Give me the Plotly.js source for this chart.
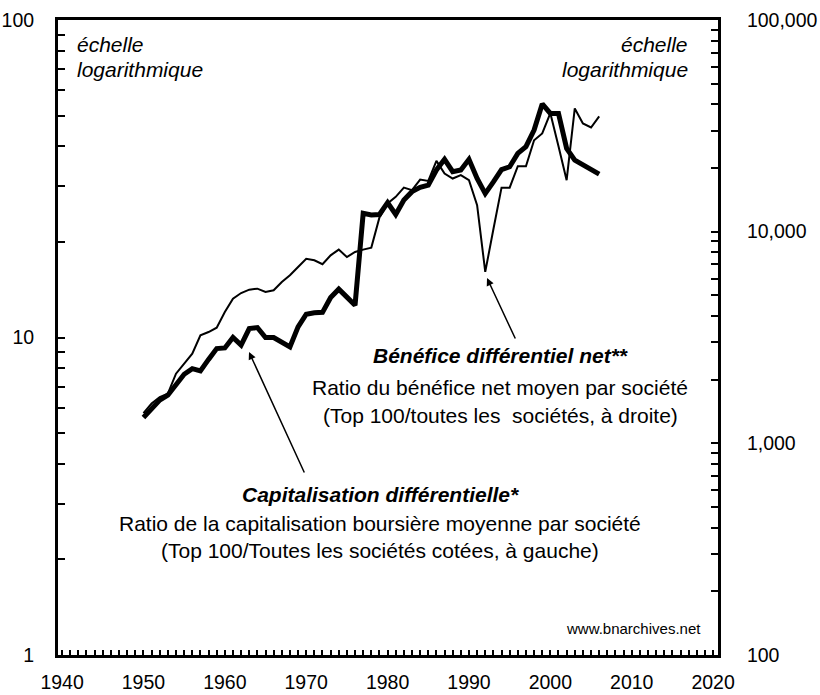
<!DOCTYPE html>
<html>
<head>
<meta charset="utf-8">
<script src="https://cdn.plot.ly/plotly-3.0.1.min.js"></script>
<style>html,body{margin:0;padding:0;background:#fff;}#chart{width:820px;height:695px;}</style>
</head>
<body>
<div id="chart"></div>
<script>
const years = [1950,1951,1952,1953,1954,1955,1956,1957,1958,1959,1960,1961,1962,1963,1964,1965,1966,1967,1968,1969,1970,1971,1972,1973,1974,1975,1976,1977,1978,1979,1980,1981,1982,1983,1984,1985,1986,1987,1988,1989,1990,1991,1992,1993,1994,1995,1996,1997,1998,1999,2000,2001,2002,2003,2004,2005,2006];
// Capitalisation différentielle (left axis)
const capitalisation = [5.6,6.0,6.35,6.58,7.08,7.66,7.98,7.85,8.53,9.23,9.27,10.0,9.46,10.67,10.75,10.0,10.0,9.68,9.34,10.8,11.84,11.96,12.0,13.37,14.2,13.4,12.64,24.6,24.3,24.4,26.6,24.4,27.1,28.8,29.7,30.2,33.7,36.4,33.3,33.7,36.4,31.7,28.4,30.9,33.8,34.5,38.0,39.9,45.0,54.4,50.8,50.8,39.4,36.2,34.9,33.9,32.7];
// Bénéfice différentiel net (right axis)
const benefice = [1390,1541,1655,1718,2134,2381,2654,3236,3356,3520,4169,4826,5129,5321,5380,5188,5284,5786,6223,6813,7440,7325,7015,7730,8225,7586,8017,8225,8409,11670,13590,14600,16150,15700,17630,17370,21600,18830,17830,18490,17500,13340,6456,10260,16140,16140,20380,20380,27040,29100,36300,25350,17500,38200,32430,31050,35080];

const xTickVals = [1940,1950,1960,1970,1980,1990,2000,2010,2020];
const xTickText = ['1940','1950','1960','1970','1980','1990','2000','2010','2020'];
const yLeftVals = [1,2,3,4,5,6,7,8,9,10,20,30,40,50,60,70,80,90,100];
const yLeftText = ['1','','','','','','','','','10','','','','','','','','','100'];
const yRightVals = [100,200,300,400,500,600,700,800,900,1000,2000,3000,4000,5000,6000,7000,8000,9000,10000,20000,30000,40000,50000,60000,70000,80000,90000,100000];
const yRightText = ['100','','','','','','','','','1,000','','','','','','','','','10,000','','','','','','','','','100,000'];

const FONT = 'Liberation Sans, Arial, sans-serif';

const traces = [
  {x: years, y: benefice, yaxis: 'y2', type: 'scatter', mode: 'lines',
   line: {color: '#000', width: 2}, hoverinfo: 'skip'},
  {x: years, y: capitalisation, yaxis: 'y', type: 'scatter', mode: 'lines',
   line: {color: '#000', width: 5}, hoverinfo: 'skip'}
];

function txt(text, x, y, xanchor, size) {
  return {text: text, xref: 'paper', yref: 'paper', x: x, y: y, xanchor: xanchor, yanchor: 'middle',
          showarrow: false, font: {family: FONT, size: size || 21, color: '#000'}};
}

const layout = {
  width: 820, height: 695,
  margin: {l: 58, r: 102, t: 20, b: 40, pad: 0},
  paper_bgcolor: '#fff', plot_bgcolor: '#fff',
  showlegend: false,
  font: {family: FONT, size: 19, color: '#000'},
  xaxis: {
    range: [1939.5, 2020.6], tickvals: xTickVals, ticktext: xTickText,
    ticks: 'inside', ticklen: 5, tickwidth: 2, tickcolor: '#000',
    minor: {dtick: 1, tick0: 1940, ticks: 'inside', ticklen: 5, tickwidth: 2, tickcolor: '#000', showgrid: false},
    showline: true, linewidth: 3, linecolor: '#000', mirror: true,
    showgrid: false, zeroline: false, ticklabelstandoff: 8,
    tickfont: {family: FONT, size: 19.5}
  },
  yaxis: {
    type: 'log', range: [0, 2], tickvals: yLeftVals, ticktext: yLeftText,
    ticks: 'inside', ticklen: 7, tickwidth: 2, tickcolor: '#000',
    showline: true, linewidth: 3, linecolor: '#000',
    showgrid: false, zeroline: false, ticklabelstandoff: 17,
    tickfont: {family: FONT, size: 19.5}
  },
  yaxis2: {
    type: 'log', range: [2, 5], overlaying: 'y', side: 'right',
    tickvals: yRightVals, ticktext: yRightText,
    ticks: 'inside', ticklen: 7, tickwidth: 2, tickcolor: '#000',
    showline: true, linewidth: 3, linecolor: '#000',
    showgrid: false, zeroline: false, ticklabelstandoff: 22,
    tickfont: {family: FONT, size: 19.5}
  },
  annotations: [
    txt('<i>échelle</i>', 0.0265, 0.9622, 'left'),
    txt('<i>logarithmique</i>', 0.0265, 0.9213, 'left'),
    txt('<i>échelle</i>', 0.9576, 0.9622, 'right'),
    txt('<i>logarithmique</i>', 0.9576, 0.9213, 'right'),
    txt('<b><i>Bénéfice différentiel net**</i></b>', 0.6697, 0.4709, 'center'),
    txt('Ratio du bénéfice net moyen par société', 0.6697, 0.4220, 'center'),
    txt('(Top 100/toutes les  sociétés, à droite)', 0.6697, 0.3764, 'center'),
    txt('<b><i>Capitalisation différentielle*</i></b>', 0.4879, 0.2520, 'center'),
    txt('Ratio de la capitalisation boursière moyenne par société', 0.4879, 0.2063, 'center'),
    txt('(Top 100/Toutes les sociétés cotées, à gauche)', 0.4879, 0.1638, 'center'),
    txt('www.bnarchives.net', 0.9773, 0.0425, 'right', 15),
    {xref: 'paper', yref: 'paper', x: 0.65, y: 0.5937, ax: 29, ay: 62, text: '',
     showarrow: true, arrowhead: 2, arrowsize: 1, arrowwidth: 1.5, arrowcolor: '#000'},
    {xref: 'paper', yref: 'paper', x: 0.2894, y: 0.4772, ax: 56, ay: 122, text: '',
     showarrow: true, arrowhead: 2, arrowsize: 1, arrowwidth: 1.5, arrowcolor: '#000'}
  ]
};

Plotly.newPlot('chart', traces, layout, {staticPlot: true, displayModeBar: false});
</script>
</body>
</html>
